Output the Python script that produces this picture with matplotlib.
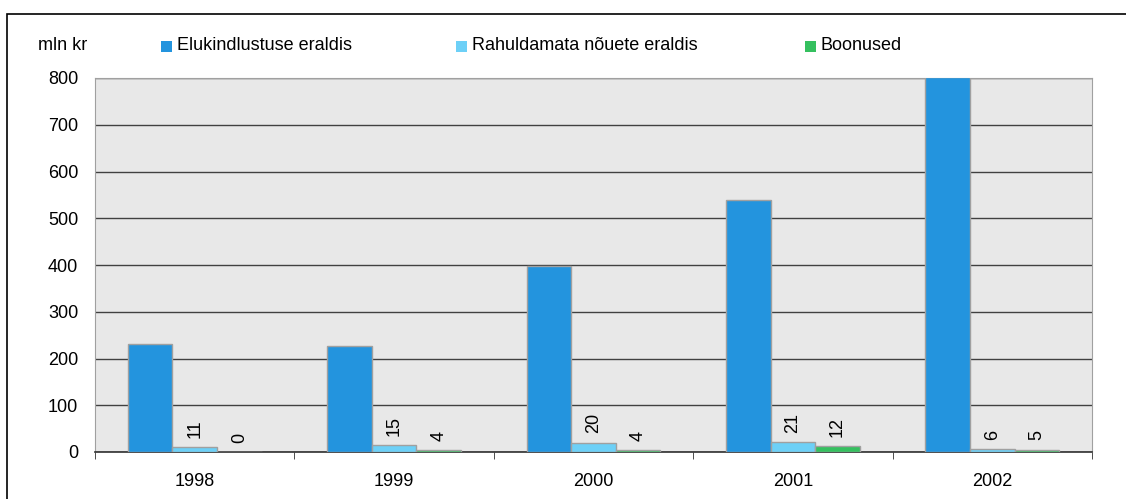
import matplotlib.pyplot as plt
import numpy as np
from matplotlib.patches import Rectangle

plt.rcParams['font.family'] = ['Liberation Sans', 'DejaVu Sans']

years = ['1998', '1999', '2000', '2001', '2002']
elukindlustus = [231, 226, 398, 540, 803]
rahuldamata = [11, 15, 20, 21, 6]
boonused = [0, 4, 4, 12, 5]

series_names = ['Elukindlustuse eraldis', 'Rahuldamata nõuete eraldis', 'Boonused']
colors = ['#2394DE', '#6DD0F7', '#35C05F']
fs = 13

fig = plt.figure(figsize=(11.26, 4.99), dpi=100)
# outer frame around the whole chart
fig.patches.append(Rectangle((7 / 1126, -0.1), 1.2, (499 - 14) / 499 + 0.1,
                             transform=fig.transFigure, fill=False,
                             edgecolor='black', linewidth=1.2))

ax = fig.add_axes([95 / 1126, 47 / 499, 997 / 1126, 374 / 499])
ax.set_facecolor('#E8E8E8')

x = np.arange(len(years))
w = 0.224
for i, (vals, c) in enumerate(zip([elukindlustus, rahuldamata, boonused], colors)):
    pos = x + (i - 1) * w
    ax.bar(pos, vals, width=w, color=c, edgecolor='#A0A0A0', linewidth=1, zorder=3)
    if i > 0:
        for px, v in zip(pos, vals):
            ax.text(px, v + 20, str(v), rotation=90, ha='center', va='bottom',
                    fontsize=fs, zorder=4)

ax.set_xlim(-0.5, len(years) - 0.5)
ax.set_ylim(0, 800)
ax.set_yticks(range(0, 801, 100))
ax.yaxis.grid(True, color='#404040', linewidth=1)
ax.set_axisbelow(True)
ax.tick_params(axis='y', length=0, pad=12, labelsize=fs)

ax.set_xticks(x)
ax.set_xticklabels(years, fontsize=fs)
ax.set_xticks(np.arange(-0.5, len(years)), minor=True)
ax.tick_params(axis='x', which='major', length=0, pad=15)
ax.tick_params(axis='x', which='minor', length=5, direction='out', color='#303030')

for s in ['left', 'right', 'top']:
    ax.spines[s].set_color('#A0A0A0')
ax.spines['bottom'].set_color('#303030')
ax.spines['bottom'].set_linewidth(1.2)

fig.text(38 / 1126, 1 - 45 / 499, 'mln kr', fontsize=fs, va='center')

# legend across the top
legend_x = [161, 456, 805]
for lx, name, c in zip(legend_x, series_names, colors):
    fig.patches.append(Rectangle((lx / 1126, 1 - 52 / 499), 11 / 1126, 11 / 499,
                                 transform=fig.transFigure, facecolor=c,
                                 edgecolor='none'))
    fig.text((lx + 16) / 1126, 1 - 46 / 499, name, fontsize=fs, va='center')

fig.savefig('out.png', dpi=100)
